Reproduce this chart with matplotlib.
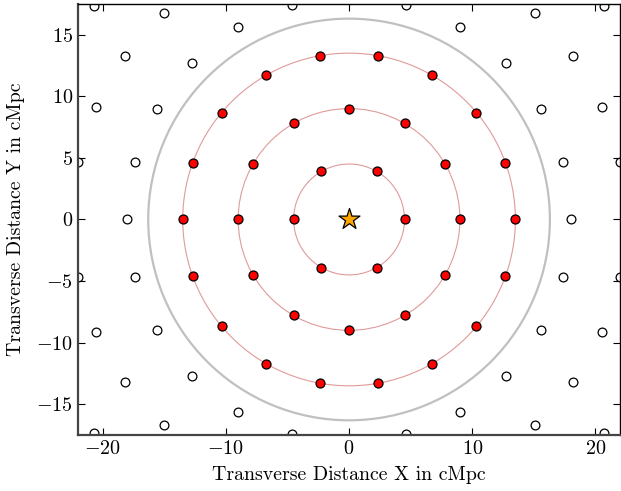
import numpy as np
import matplotlib
matplotlib.use("Agg")
import matplotlib.pyplot as plt
from matplotlib.patches import Circle

plt.rcParams['font.family'] = 'serif'
plt.rcParams['font.serif'] = ['cmr10']
plt.rcParams['mathtext.fontset'] = 'cm'
plt.rcParams['axes.formatter.use_mathtext'] = True

# selected sightlines (red), 3 rings
red_x = [4.5, 2.25, -2.25, -4.5, -2.25, 2.25,
         9.0, 7.79, 4.5, 0.0, -4.5, -7.79, -9.0, -7.79, -4.5, 0.0, 4.5, 7.79,
         13.5, 12.69, 10.34, 6.75, 2.34, -2.34, -6.75, -10.34, -12.69,
         -13.5, -12.69, -10.34, -6.75, -2.34, 2.34, 6.75, 10.34, 12.69]
red_y = [0.0, 3.9, 3.9, 0.0, -3.9, -3.9,
         0.0, 4.5, 7.79, 9.0, 7.79, 4.5, 0.0, -4.5, -7.79, -9.0, -7.79, -4.5,
         0.0, 4.62, 8.68, 11.69, 13.29, 13.29, 11.69, 8.68, 4.62,
         0.0, -4.62, -8.68, -11.69, -13.29, -13.29, -11.69, -8.68, -4.62]

# other sightlines (open circles)
open_x = [18.0, 17.39, 15.59, 12.73, 9.0, 4.66, -4.66, -9.0, -12.73, -15.59, -17.39,
          -18.0, -17.39, -15.59, -12.73, -9.0, -4.66, 4.66, 9.0, 12.73, 15.59, 17.39,
          22.01, 20.55, 18.20, 15.06, -22.01, -20.55, -18.20, -15.06,
          -22.01, -20.55, -18.20, -15.06, 22.01, 20.55, 18.20, 15.06,
          20.68, -20.68, -20.68, 20.68]
open_y = [0.0, 4.66, 9.0, 12.73, 15.59, 17.39, 17.39, 15.59, 12.73, 9.0, 4.66,
          0.0, -4.66, -9.0, -12.73, -15.59, -17.39, -17.39, -15.59, -12.73, -9.0, -4.66,
          4.68, 9.15, 13.23, 16.72, 4.68, 9.15, 13.23, 16.72,
          -4.68, -9.15, -13.23, -16.72, -4.68, -9.15, -13.23, -16.72,
          17.36, 17.36, -17.36, -17.36]

ring_radii = [4.5, 9.0, 13.5]
outer_radius = 16.3

fig = plt.figure(figsize=(6.21, 4.91), dpi=100)
ax = fig.add_axes([0.1256, 0.112, 0.873, 0.882])

ax.add_patch(Circle((0, 0), outer_radius, fill=False, ec='#c0c0c0', lw=1.6, zorder=1))
for r in ring_radii:
    ax.add_patch(Circle((0, 0), r, fill=False, ec='#e09a9a', lw=0.8, zorder=1))

ax.scatter(open_x, open_y, s=40, facecolors='white', edgecolors='black', linewidths=0.9, zorder=2)
ax.scatter(red_x, red_y, s=42, facecolors='red', edgecolors='black', linewidths=0.9, zorder=3)
ax.scatter([0], [0], marker='*', s=250, facecolors='#ffa500', edgecolors='black', linewidths=0.9, zorder=4)

ax.set_xlim(-22, 22)
ax.set_ylim(-17.5, 17.5)
ax.set_aspect('equal', adjustable='box')
ax.set_xticks([-20, -10, 0, 10, 20])
ax.set_yticks([-15, -10, -5, 0, 5, 10, 15])
ax.tick_params(direction='in', top=True, right=True, length=5, labelsize=14.5)
for s in ['left', 'bottom']:
    ax.spines[s].set_linewidth(1.6)
    ax.spines[s].set_color('#444444')
for s in ['top', 'right']:
    ax.spines[s].set_linewidth(1.0)

ax.set_xlabel('Transverse Distance X in cMpc', fontsize=14.3, labelpad=6)
ax.set_ylabel('Transverse Distance Y in cMpc', fontsize=14.3, labelpad=8)

fig.savefig('out.png', dpi=100)
